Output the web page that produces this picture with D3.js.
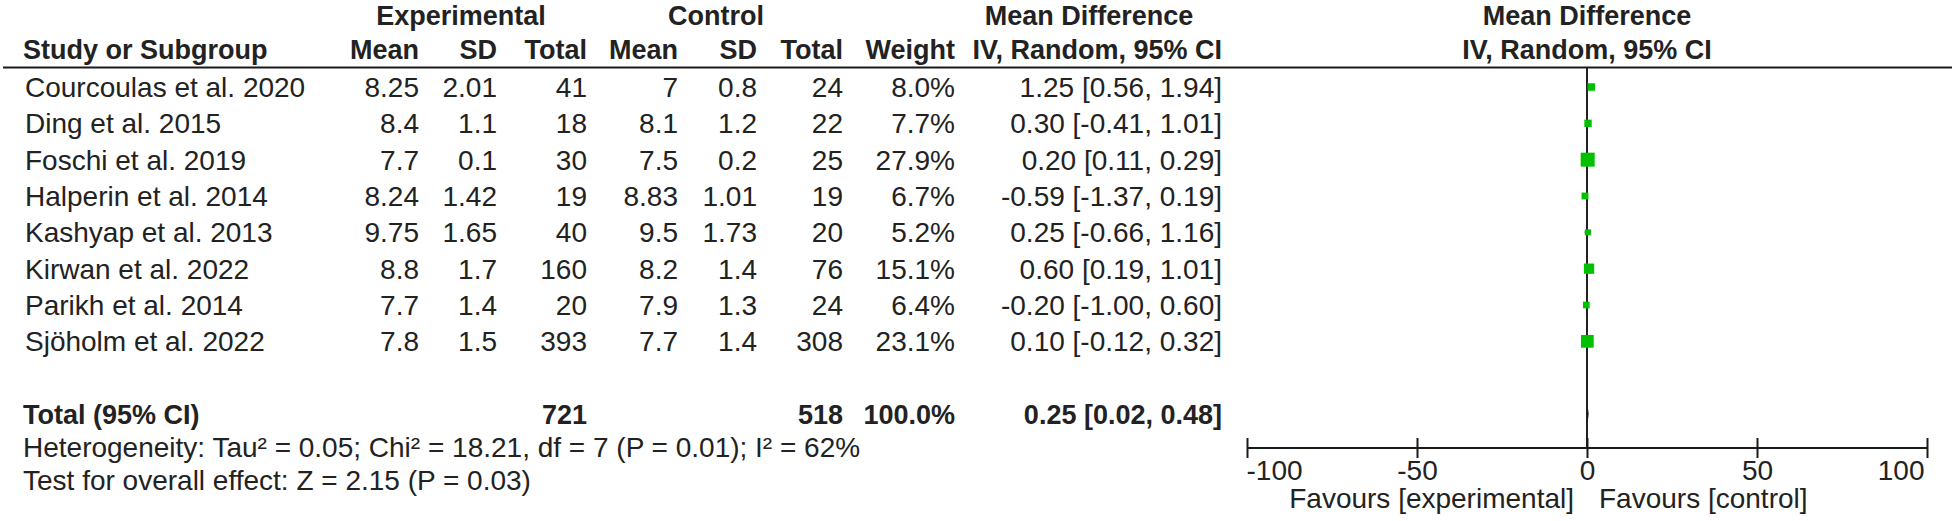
<!DOCTYPE html>
<html>
<head>
<meta charset="utf-8">
<script src="https://cdn.jsdelivr.net/npm/d3@7"></script>
<style>
  html, body { margin: 0; padding: 0; background: #fff; }
  svg { display: block; }
  text { font-family: "Liberation Sans", Arial, sans-serif; fill: #222; }
</style>
</head>
<body>
<script>
// ---- data ----
const studies = ["Courcoulas et al. 2020", "Ding et al. 2015", "Foschi et al. 2019", "Halperin et al. 2014",
                 "Kashyap et al. 2013", "Kirwan et al. 2022", "Parikh et al. 2014", "Sjöholm et al. 2022"];
const expMean = [8.25, 8.4, 7.7, 8.24, 9.75, 8.8, 7.7, 7.8];
const expSD   = [2.01, 1.1, 0.1, 1.42, 1.65, 1.7, 1.4, 1.5];
const expN    = [41, 18, 30, 19, 40, 160, 20, 393];
const ctlMean = [7, 8.1, 7.5, 8.83, 9.5, 8.2, 7.9, 7.7];
const ctlSD   = [0.8, 1.2, 0.2, 1.01, 1.73, 1.4, 1.3, 1.4];
const ctlN    = [24, 22, 25, 19, 20, 76, 24, 308];
const weights = [8.0, 7.7, 27.9, 6.7, 5.2, 15.1, 6.4, 23.1];
const md      = [1.25, 0.30, 0.20, -0.59, 0.25, 0.60, -0.20, 0.10];
const ciLow   = [0.56, -0.41, 0.11, -1.37, -0.66, 0.19, -1.00, -0.12];
const ciHigh  = [1.94, 1.01, 0.29, 0.19, 1.16, 1.01, 0.60, 0.32];
const totalExpN = 721, totalCtlN = 518, totalWeight = 100.0;
const totalMD = 0.25, totalLow = 0.02, totalHigh = 0.48;
const axisTicks = [-100, -50, 0, 50, 100];
const heterogeneityText = "Heterogeneity: Tau² = 0.05; Chi² = 18.21, df = 7 (P = 0.01); I² = 62%";
const overallText = "Test for overall effect: Z = 2.15 (P = 0.03)";
const favoursLeft = "Favours [experimental]";
const favoursRight = "Favours [control]";

// ---- layout ----
const W = 1954, H = 521;
const svg = d3.select("body").append("svg").attr("width", W).attr("height", H);

const loc = d3.formatLocale({ decimal: ".", thousands: ",", grouping: [3], currency: ["", ""], minus: "-" });
const x = d3.scaleLinear().domain([-100, 100]).range([1247, 1927]);
const y = d3.scaleLinear().domain([0, 9]).range([87, 414]);   // row centres
const side = d3.scaleSqrt().domain([0, 27.9]).range([0, 14]);
const f2 = loc.format(".2f");
const fw = loc.format(".1f");

const BODY = 28, BOLD = 27;
function txt(xp, yp, s, anchor, bold) {
  return svg.append("text")
    .attr("x", xp).attr("y", yp)
    .attr("text-anchor", anchor || "start")
    .attr("font-size", bold ? BOLD : BODY)
    .attr("font-weight", bold ? "bold" : "normal")
    .text(s);
}

// column right edges
const colX = { name: 25, eMean: 419, eSD: 497, eN: 587, cMean: 678, cSD: 757, cN: 843, w: 955, ci: 1222 };

// header row 1
txt(461, 25, "Experimental", "middle", true);
txt(716, 25, "Control", "middle", true);
txt(1089, 25, "Mean Difference", "middle", true);
txt(x(0), 25, "Mean Difference", "middle", true);
// header row 2
txt(23, 59, "Study or Subgroup", "start", true);
txt(colX.eMean, 59, "Mean", "end", true);
txt(colX.eSD, 59, "SD", "end", true);
txt(colX.eN, 59, "Total", "end", true);
txt(colX.cMean, 59, "Mean", "end", true);
txt(colX.cSD, 59, "SD", "end", true);
txt(colX.cN, 59, "Total", "end", true);
txt(colX.w, 59, "Weight", "end", true);
txt(colX.ci, 59, "IV, Random, 95% CI", "end", true);
txt(x(0), 59, "IV, Random, 95% CI", "middle", true);

// header rule
svg.append("line").attr("x1", 3).attr("x2", 1952).attr("y1", 67.5).attr("y2", 67.5)
  .attr("stroke", "#1a1a1a").attr("stroke-width", 2);

// zero line
svg.append("line").attr("x1", x(0)).attr("x2", x(0)).attr("y1", 67.5).attr("y2", 448)
  .attr("stroke", "#222").attr("stroke-width", 2);

// study rows
studies.forEach((s, i) => {
  const yb = y(i) + 10;
  txt(colX.name, yb, s, "start");
  txt(colX.eMean, yb, String(expMean[i]), "end");
  txt(colX.eSD, yb, String(expSD[i]), "end");
  txt(colX.eN, yb, String(expN[i]), "end");
  txt(colX.cMean, yb, String(ctlMean[i]), "end");
  txt(colX.cSD, yb, String(ctlSD[i]), "end");
  txt(colX.cN, yb, String(ctlN[i]), "end");
  txt(colX.w, yb, fw(weights[i]) + "%", "end");
  txt(colX.ci, yb, f2(md[i]) + " [" + f2(ciLow[i]) + ", " + f2(ciHigh[i]) + "]", "end");
});

// CI lines and squares
svg.append("g").selectAll("line").data(md).join("line")
  .attr("x1", (d, i) => x(ciLow[i])).attr("x2", (d, i) => x(ciHigh[i]))
  .attr("y1", (d, i) => y(i)).attr("y2", (d, i) => y(i))
  .attr("stroke", "#222").attr("stroke-width", 2);
svg.append("g").selectAll("rect").data(md).join("rect")
  .attr("x", (d, i) => x(d) - side(weights[i]) / 2)
  .attr("y", (d, i) => y(i) - side(weights[i]) / 2)
  .attr("width", (d, i) => side(weights[i]))
  .attr("height", (d, i) => side(weights[i]))
  .attr("fill", "#00c000");

// total row
const yt = y(9) + 10;
txt(23, yt, "Total (95% CI)", "start", true);
txt(colX.eN, yt, String(totalExpN), "end", true);
txt(colX.cN, yt, String(totalCtlN), "end", true);
txt(colX.w, yt, fw(totalWeight) + "%", "end", true);
txt(colX.ci, yt, f2(totalMD) + " [" + f2(totalLow) + ", " + f2(totalHigh) + "]", "end", true);
// diamond
const yc = y(9);
svg.append("path")
  .attr("d", `M${x(totalLow)},${yc} L${x(totalMD)},${yc - 7} L${x(totalHigh)},${yc} L${x(totalMD)},${yc + 7} Z`)
  .attr("fill", "#111");

// footer texts
txt(23, 457, heterogeneityText, "start");
txt(23, 490, overallText, "start");

// axis
const axisY = 448;
svg.append("line").attr("x1", x(-100)).attr("x2", x(100)).attr("y1", axisY).attr("y2", axisY)
  .attr("stroke", "#1a1a1a").attr("stroke-width", 2);
const ax = svg.append("g").attr("transform", `translate(0,${axisY - 10})`)
  .call(d3.axisBottom(x).tickValues(axisTicks).tickSize(20).tickPadding(14).tickFormat(loc.format("d")));
ax.select(".domain").remove();
ax.selectAll(".tick line").attr("stroke", "#1a1a1a").attr("stroke-width", 2);
ax.selectAll(".tick text")
  .attr("font-size", BODY).attr("font-family", "Liberation Sans, Arial, sans-serif").attr("fill", "#222")
  .attr("dy", null).attr("y", 42)
  .attr("text-anchor", d => d === -100 ? "start" : (d === 100 ? "end" : "middle"))
  .attr("dx", d => d === -100 ? -1 : (d === 100 ? -3 : 0));

txt(x(0) - 13, 508, favoursLeft, "end");
txt(x(0) + 12, 508, favoursRight, "start");
</script>
</body>
</html>
